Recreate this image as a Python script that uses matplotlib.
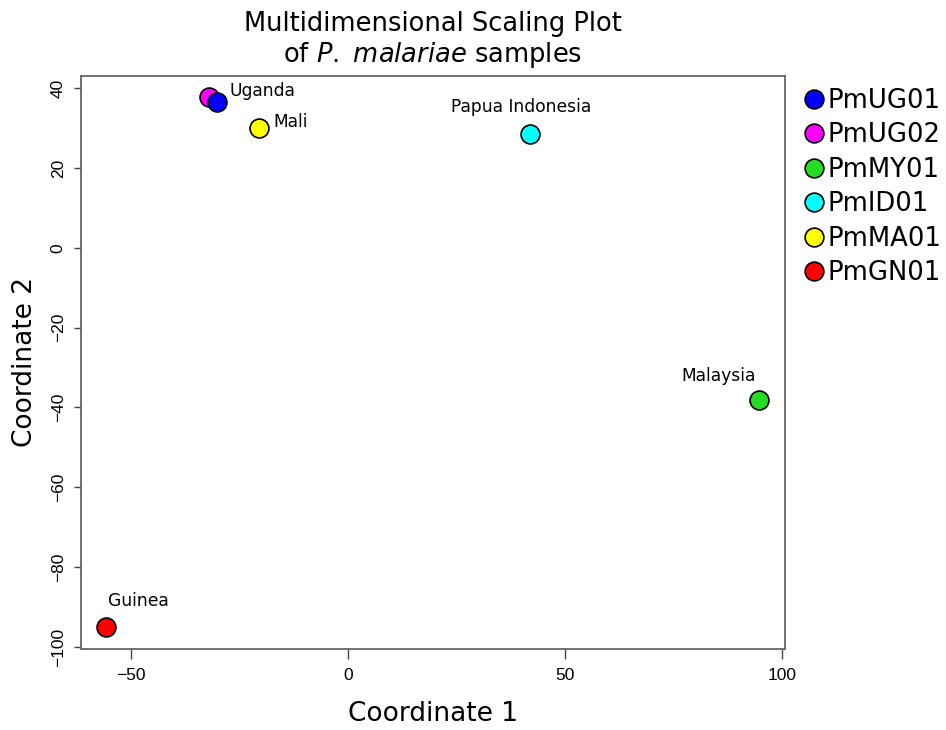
import matplotlib as mpl
mpl.use('Agg')
import matplotlib.pyplot as plt
from matplotlib.lines import Line2D

# MDS coordinates
samples = ['PmUG01', 'PmUG02', 'PmMY01', 'PmID01', 'PmMA01', 'PmGN01']
coord1 = [-30.2, -32.0, 94.7, 41.9, -20.7, -55.8]
coord2 = [36.5, 37.8, -38.2, 28.5, 30.0, -95.0]
colors = ['#0000ff', '#ff00ff', '#22dd22', '#00ffff', '#ffff00', '#ff0000']

# country labels (text, x, y, alignment)
labels = ['Uganda', 'Mali', 'Papua Indonesia', 'Malaysia', 'Guinea']
label_x = [-27.4, -17.3, 39.7, 85.3, -48.4]
label_y = [39.3, 31.5, 35.3, -32.0, -88.5]
label_ha = ['left', 'left', 'center', 'center', 'center']

xticks = [-50, 0, 50, 100]
yticks = [40, 20, 0, -20, -40, -60, -80, -100]

plt.rcParams['mathtext.fontset'] = 'dejavusans'

fig = plt.figure(figsize=(9.46, 7.30), dpi=100)
ax = fig.add_axes([0.0856, 0.1110, 0.7442, 0.7853])

# draw in the order magenta under blue
order = [1, 0, 4, 3, 2, 5]
for i in order:
    ax.scatter(coord1[i], coord2[i], s=185, c=colors[i], edgecolors='black',
               linewidths=1.2, zorder=3)

for t, x, y, ha in zip(labels, label_x, label_y, label_ha):
    ax.text(x, y, t, ha=ha, va='center', fontsize=12.3, family='DejaVu Sans')

ax.set_xlim(-61.6, 100.6)
ax.set_ylim(-100.5, 43.1)
ax.set_xticks(xticks)
ax.set_yticks(yticks)
tick_font = ['Liberation Sans Narrow', 'Liberation Sans']
ax.set_xticklabels([str(v).replace('-', '\u2212') for v in xticks], family=tick_font, fontsize=12.5)
ax.set_yticklabels([str(v).replace('-', '\u2212') for v in yticks], family=tick_font, fontsize=12.5,
                   rotation=90, va='center')
ax.tick_params(axis='x', direction='out', length=7, width=1, color='#444444', pad=7)
ax.tick_params(axis='y', direction='out', length=5, width=1, color='#444444', pad=6)
for sp in ax.spines.values():
    sp.set_color('#666666')
    sp.set_linewidth(1.3)

ax.set_xlabel('Coordinate 1', fontsize=19, labelpad=13)
ax.set_ylabel('Coordinate 2', fontsize=19, labelpad=9)

ax.set_title('Multidimensional Scaling Plot\nof $\\it{P.}$ $\\it{malariae}$ samples',
             fontsize=18.5, pad=10, linespacing=1.15)

handles = [Line2D([], [], marker='o', linestyle='none', markersize=13.5,
                  markerfacecolor=c, markeredgecolor='black', markeredgewidth=1.2)
           for c in colors]
fig.legend(handles, samples, loc='upper left', bbox_to_anchor=(0.836, 0.894),
           frameon=False, fontsize=18.6, handletextpad=0.0, labelspacing=0.33,
           borderaxespad=0, handlelength=1.0)

plt.savefig('out.png', dpi=100)
